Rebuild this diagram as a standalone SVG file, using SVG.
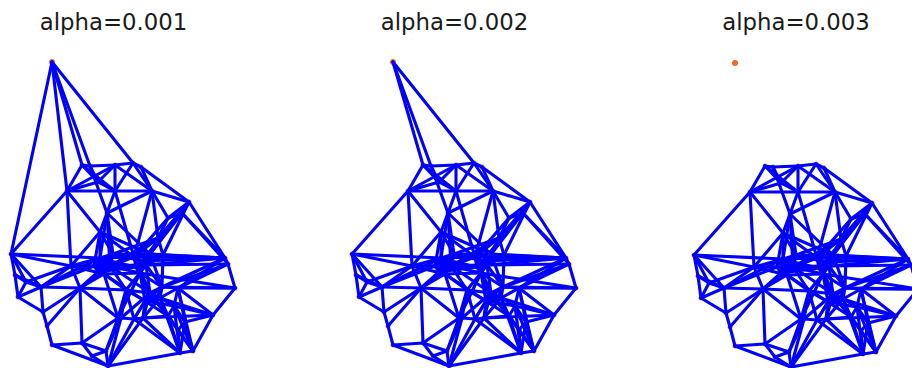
<svg xmlns="http://www.w3.org/2000/svg" xmlns:xlink="http://www.w3.org/1999/xlink" width="912" height="368" viewBox="0 0 912 368">
<style>
.t{font-family:"DejaVu Sans","Liberation Sans",sans-serif;font-size:22.8px;fill:#1a1a1a;text-anchor:middle}
.e line{stroke:#0000ff;stroke-width:3.1;stroke-linecap:round}
.n circle{fill:#f4692a}
</style>
<defs>
<g id="nodes" class="n">
<g id="n0"><circle cx="52" cy="62" r="3"/></g>
<g id="n1"><circle cx="82" cy="165" r="2.5"/></g>
<g id="n2"><circle cx="90" cy="166" r="2.5"/></g>
<g id="n3"><circle cx="115" cy="165" r="2.5"/></g>
<g id="n4"><circle cx="133" cy="163" r="2.5"/></g>
<g id="n5"><circle cx="141" cy="167" r="2.5"/></g>
<g id="n6"><circle cx="152" cy="191" r="2.5"/></g>
<g id="n7"><circle cx="189" cy="202" r="2.5"/></g>
<g id="n8"><circle cx="225" cy="258" r="2.5"/></g>
<g id="n9"><circle cx="228" cy="264" r="2.5"/></g>
<g id="n10"><circle cx="235" cy="288" r="2.5"/></g>
<g id="n11"><circle cx="213" cy="315" r="2.5"/></g>
<g id="n12"><circle cx="193" cy="351" r="2.5"/></g>
<g id="n13"><circle cx="180" cy="353" r="2.5"/></g>
<g id="n14"><circle cx="108" cy="366" r="2.5"/></g>
<g id="n15"><circle cx="92" cy="356" r="2.5"/></g>
<g id="n16"><circle cx="82" cy="343" r="2.5"/></g>
<g id="n17"><circle cx="52" cy="345" r="2.5"/></g>
<g id="n18"><circle cx="47" cy="326" r="2.5"/></g>
<g id="n19"><circle cx="43" cy="312" r="2.5"/></g>
<g id="n20"><circle cx="18" cy="297" r="2.5"/></g>
<g id="n21"><circle cx="15" cy="275" r="2.5"/></g>
<g id="n22"><circle cx="11" cy="254" r="2.5"/></g>
<g id="n23"><circle cx="67" cy="191" r="2.5"/></g>
<g id="n24"><circle cx="98" cy="182" r="2.5"/></g>
<g id="n25"><circle cx="115" cy="191" r="2.5"/></g>
<g id="n26"><circle cx="107" cy="213" r="2.5"/></g>
<g id="n27"><circle cx="100" cy="232" r="2.5"/></g>
<g id="n28"><circle cx="182" cy="213" r="2.5"/></g>
<g id="n29"><circle cx="168" cy="218" r="2.5"/></g>
<g id="n30"><circle cx="158" cy="238" r="2.5"/></g>
<g id="n31"><circle cx="26" cy="282" r="2.5"/></g>
<g id="n32"><circle cx="41" cy="287" r="2.5"/></g>
<g id="n33"><circle cx="71" cy="266" r="2.5"/></g>
<g id="n34"><circle cx="80" cy="288" r="2.5"/></g>
<g id="n35"><circle cx="118" cy="318" r="2.5"/></g>
<g id="n36"><circle cx="106" cy="351" r="2.5"/></g>
<g id="n37"><circle cx="178" cy="288" r="2.5"/></g>
<g id="n38"><circle cx="174" cy="306" r="2.5"/></g>
<g id="n39"><circle cx="168" cy="316" r="2.5"/></g>
<g id="n40"><circle cx="143" cy="318" r="2.5"/></g>
<g id="n41"><circle cx="134" cy="319" r="2.5"/></g>
<g id="n42"><circle cx="121" cy="318" r="2.5"/></g>
<g id="n43"><circle cx="100" cy="258" r="2.5"/></g>
<g id="n44"><circle cx="110" cy="266" r="2.5"/></g>
<g id="n45"><circle cx="104" cy="274" r="2.5"/></g>
<g id="n46"><circle cx="94" cy="266" r="2.5"/></g>
<g id="n47"><circle cx="113" cy="254" r="2.5"/></g>
<g id="n48"><circle cx="134" cy="257" r="2.5"/></g>
<g id="n49"><circle cx="146" cy="265" r="2.5"/></g>
<g id="n50"><circle cx="140" cy="273" r="2.5"/></g>
<g id="n51"><circle cx="150" cy="254" r="2.5"/></g>
<g id="n52"><circle cx="150" cy="293" r="2.5"/></g>
<g id="n53"><circle cx="160" cy="298" r="2.5"/></g>
<g id="n54"><circle cx="145" cy="301" r="2.5"/></g>
<g id="n55"><circle cx="162" cy="287" r="2.5"/></g>
<g id="n56"><circle cx="126" cy="290" r="2.5"/></g>
<g id="n57"><circle cx="163" cy="255" r="2.5"/></g>
<g id="n58"><circle cx="185" cy="322" r="2.5"/></g>
<g id="n59"><circle cx="178" cy="330" r="2.5"/></g>
<g id="n60"><circle cx="106" cy="260" r="2.5"/></g>
<g id="n61"><circle cx="98" cy="272" r="2.5"/></g>
<g id="n62"><circle cx="142" cy="261" r="2.5"/></g>
<g id="n63"><circle cx="136" cy="267" r="2.5"/></g>
<g id="n64"><circle cx="155" cy="301" r="2.5"/></g>
<g id="n65"><circle cx="148" cy="296" r="2.5"/></g>
</g>
<g id="mesh" class="e">
<line x1="11" y1="254" x2="15" y2="275"/><line x1="15" y1="275" x2="18" y2="297"/><line x1="18" y1="297" x2="43" y2="312"/><line x1="43" y1="312" x2="47" y2="326"/><line x1="47" y1="326" x2="52" y2="345"/><line x1="52" y1="345" x2="82" y2="343"/><line x1="82" y1="343" x2="92" y2="356"/><line x1="92" y1="356" x2="108" y2="366"/><line x1="52" y1="345" x2="108" y2="366"/><line x1="108" y1="366" x2="180" y2="353"/><line x1="180" y1="353" x2="193" y2="351"/><line x1="193" y1="351" x2="213" y2="315"/><line x1="213" y1="315" x2="235" y2="288"/><line x1="235" y1="288" x2="228" y2="264"/><line x1="228" y1="264" x2="225" y2="258"/><line x1="225" y1="258" x2="189" y2="202"/><line x1="189" y1="202" x2="141" y2="167"/><line x1="141" y1="167" x2="133" y2="163"/><line x1="133" y1="163" x2="115" y2="165"/><line x1="115" y1="165" x2="90" y2="166"/><line x1="90" y1="166" x2="82" y2="165"/><line x1="82" y1="165" x2="67" y2="191"/><line x1="67" y1="191" x2="11" y2="254"/>
<line x1="82" y1="165" x2="98" y2="182"/><line x1="82" y1="165" x2="115" y2="191"/><line x1="90" y1="166" x2="98" y2="182"/><line x1="90" y1="166" x2="107" y2="213"/><line x1="115" y1="165" x2="98" y2="182"/><line x1="115" y1="165" x2="115" y2="191"/><line x1="115" y1="165" x2="67" y2="191"/><line x1="133" y1="163" x2="152" y2="191"/><line x1="141" y1="167" x2="152" y2="191"/><line x1="133" y1="163" x2="115" y2="191"/><line x1="115" y1="165" x2="152" y2="191"/><line x1="67" y1="191" x2="98" y2="182"/><line x1="67" y1="191" x2="115" y2="191"/><line x1="67" y1="191" x2="100" y2="232"/><line x1="67" y1="191" x2="71" y2="266"/><line x1="98" y1="182" x2="115" y2="191"/><line x1="115" y1="191" x2="152" y2="191"/><line x1="115" y1="191" x2="107" y2="213"/><line x1="107" y1="213" x2="100" y2="232"/><line x1="152" y1="191" x2="107" y2="213"/><line x1="152" y1="191" x2="189" y2="202"/><line x1="152" y1="191" x2="158" y2="238"/><line x1="152" y1="191" x2="168" y2="218"/><line x1="189" y1="202" x2="182" y2="213"/><line x1="189" y1="202" x2="168" y2="218"/><line x1="182" y1="213" x2="168" y2="218"/><line x1="182" y1="213" x2="158" y2="238"/><line x1="189" y1="202" x2="163" y2="255"/><line x1="168" y1="218" x2="158" y2="238"/><line x1="189" y1="202" x2="158" y2="238"/>
<line x1="11" y1="254" x2="71" y2="266"/><line x1="11" y1="254" x2="26" y2="282"/><line x1="11" y1="254" x2="41" y2="287"/><line x1="15" y1="275" x2="26" y2="282"/><line x1="15" y1="275" x2="41" y2="287"/><line x1="18" y1="297" x2="26" y2="282"/><line x1="18" y1="297" x2="41" y2="287"/><line x1="26" y1="282" x2="41" y2="287"/><line x1="41" y1="287" x2="71" y2="266"/><line x1="41" y1="287" x2="80" y2="288"/><line x1="43" y1="312" x2="41" y2="287"/><line x1="43" y1="312" x2="80" y2="288"/><line x1="47" y1="326" x2="80" y2="288"/><line x1="82" y1="343" x2="80" y2="288"/><line x1="71" y1="266" x2="80" y2="288"/><line x1="71" y1="266" x2="100" y2="258"/><line x1="71" y1="266" x2="94" y2="266"/><line x1="100" y1="232" x2="71" y2="266"/><line x1="100" y1="232" x2="100" y2="258"/><line x1="100" y1="232" x2="94" y2="266"/><line x1="100" y1="232" x2="113" y2="254"/><line x1="107" y1="213" x2="113" y2="254"/><line x1="107" y1="213" x2="100" y2="258"/>
<line x1="82" y1="343" x2="106" y2="351"/><line x1="92" y1="356" x2="106" y2="351"/><line x1="108" y1="366" x2="106" y2="351"/><line x1="106" y1="351" x2="118" y2="318"/><line x1="106" y1="351" x2="121" y2="318"/><line x1="80" y1="288" x2="118" y2="318"/><line x1="80" y1="288" x2="104" y2="274"/><line x1="118" y1="318" x2="121" y2="318"/><line x1="118" y1="318" x2="104" y2="274"/><line x1="118" y1="318" x2="126" y2="290"/><line x1="82" y1="343" x2="118" y2="318"/><line x1="108" y1="366" x2="121" y2="318"/><line x1="108" y1="366" x2="134" y2="319"/><line x1="108" y1="366" x2="143" y2="318"/><line x1="180" y1="353" x2="143" y2="318"/><line x1="180" y1="353" x2="134" y2="319"/><line x1="180" y1="353" x2="168" y2="316"/><line x1="180" y1="353" x2="174" y2="306"/><line x1="193" y1="351" x2="174" y2="306"/><line x1="193" y1="351" x2="168" y2="316"/><line x1="213" y1="315" x2="174" y2="306"/><line x1="213" y1="315" x2="178" y2="288"/><line x1="213" y1="315" x2="160" y2="298"/><line x1="213" y1="315" x2="143" y2="318"/><line x1="134" y1="319" x2="143" y2="318"/><line x1="121" y1="318" x2="134" y2="319"/><line x1="143" y1="318" x2="145" y2="301"/><line x1="134" y1="319" x2="145" y2="301"/><line x1="121" y1="318" x2="126" y2="290"/><line x1="134" y1="319" x2="126" y2="290"/><line x1="143" y1="318" x2="168" y2="316"/><line x1="168" y1="316" x2="174" y2="306"/><line x1="174" y1="306" x2="178" y2="288"/><line x1="168" y1="316" x2="160" y2="298"/><line x1="174" y1="306" x2="160" y2="298"/><line x1="143" y1="318" x2="160" y2="298"/>
<line x1="225" y1="258" x2="163" y2="255"/><line x1="225" y1="258" x2="150" y2="254"/><line x1="225" y1="258" x2="146" y2="265"/><line x1="225" y1="258" x2="162" y2="287"/><line x1="228" y1="264" x2="162" y2="287"/><line x1="228" y1="264" x2="178" y2="288"/><line x1="235" y1="288" x2="178" y2="288"/><line x1="235" y1="288" x2="162" y2="287"/><line x1="225" y1="258" x2="178" y2="288"/><line x1="182" y1="213" x2="228" y2="264"/><line x1="182" y1="213" x2="225" y2="258"/><line x1="158" y1="238" x2="163" y2="255"/><line x1="158" y1="238" x2="150" y2="254"/><line x1="158" y1="238" x2="134" y2="257"/><line x1="163" y1="255" x2="150" y2="254"/><line x1="163" y1="255" x2="146" y2="265"/><line x1="163" y1="255" x2="162" y2="287"/><line x1="178" y1="288" x2="162" y2="287"/><line x1="178" y1="288" x2="160" y2="298"/><line x1="162" y1="287" x2="150" y2="293"/><line x1="162" y1="287" x2="146" y2="265"/><line x1="162" y1="287" x2="140" y2="273"/>
<line x1="100" y1="258" x2="110" y2="266"/><line x1="100" y1="258" x2="104" y2="274"/><line x1="100" y1="258" x2="94" y2="266"/><line x1="100" y1="258" x2="113" y2="254"/><line x1="110" y1="266" x2="104" y2="274"/><line x1="110" y1="266" x2="94" y2="266"/><line x1="110" y1="266" x2="113" y2="254"/><line x1="104" y1="274" x2="94" y2="266"/><line x1="104" y1="274" x2="113" y2="254"/><line x1="94" y1="266" x2="113" y2="254"/>
<line x1="134" y1="257" x2="146" y2="265"/><line x1="134" y1="257" x2="140" y2="273"/><line x1="134" y1="257" x2="150" y2="254"/><line x1="146" y1="265" x2="140" y2="273"/><line x1="146" y1="265" x2="150" y2="254"/><line x1="140" y1="273" x2="150" y2="254"/>
<line x1="150" y1="293" x2="160" y2="298"/><line x1="150" y1="293" x2="145" y2="301"/><line x1="160" y1="298" x2="145" y2="301"/><line x1="160" y1="298" x2="162" y2="287"/><line x1="145" y1="301" x2="162" y2="287"/>
<line x1="113" y1="254" x2="134" y2="257"/><line x1="110" y1="266" x2="134" y2="257"/><line x1="110" y1="266" x2="140" y2="273"/><line x1="104" y1="274" x2="140" y2="273"/><line x1="113" y1="254" x2="150" y2="254"/><line x1="100" y1="258" x2="134" y2="257"/><line x1="94" y1="266" x2="146" y2="265"/><line x1="110" y1="266" x2="146" y2="265"/>
<line x1="140" y1="273" x2="150" y2="293"/><line x1="140" y1="273" x2="145" y2="301"/><line x1="146" y1="265" x2="150" y2="293"/><line x1="134" y1="257" x2="150" y2="293"/><line x1="150" y1="254" x2="162" y2="287"/>
<line x1="104" y1="274" x2="145" y2="301"/><line x1="110" y1="266" x2="150" y2="293"/><line x1="104" y1="274" x2="126" y2="290"/><line x1="110" y1="266" x2="126" y2="290"/><line x1="126" y1="290" x2="145" y2="301"/><line x1="126" y1="290" x2="150" y2="293"/><line x1="126" y1="290" x2="140" y2="273"/>
<line x1="100" y1="232" x2="134" y2="257"/><line x1="100" y1="232" x2="150" y2="254"/><line x1="107" y1="213" x2="150" y2="254"/><line x1="158" y1="238" x2="113" y2="254"/><line x1="158" y1="238" x2="110" y2="266"/><line x1="168" y1="218" x2="134" y2="257"/><line x1="152" y1="191" x2="134" y2="257"/><line x1="115" y1="191" x2="134" y2="257"/><line x1="107" y1="213" x2="110" y2="266"/><line x1="71" y1="266" x2="110" y2="266"/><line x1="80" y1="288" x2="110" y2="266"/><line x1="80" y1="288" x2="126" y2="290"/><line x1="41" y1="287" x2="100" y2="258"/><line x1="71" y1="266" x2="104" y2="274"/><line x1="118" y1="318" x2="140" y2="273"/><line x1="121" y1="318" x2="150" y2="293"/><line x1="143" y1="318" x2="150" y2="293"/><line x1="134" y1="319" x2="150" y2="293"/><line x1="145" y1="301" x2="168" y2="316"/><line x1="145" y1="301" x2="174" y2="306"/>
<line x1="193" y1="351" x2="185" y2="322"/><line x1="180" y1="353" x2="185" y2="322"/><line x1="193" y1="351" x2="178" y2="330"/><line x1="180" y1="353" x2="178" y2="330"/><line x1="185" y1="322" x2="178" y2="330"/><line x1="185" y1="322" x2="174" y2="306"/><line x1="178" y1="330" x2="168" y2="316"/><line x1="185" y1="322" x2="213" y2="315"/><line x1="185" y1="322" x2="178" y2="288"/><line x1="193" y1="351" x2="178" y2="288"/><line x1="180" y1="353" x2="160" y2="298"/>
<line x1="106" y1="260" x2="94" y2="266"/><line x1="106" y1="260" x2="104" y2="274"/><line x1="106" y1="260" x2="113" y2="254"/><line x1="106" y1="260" x2="100" y2="258"/><line x1="106" y1="260" x2="110" y2="266"/><line x1="106" y1="260" x2="98" y2="272"/><line x1="98" y1="272" x2="94" y2="266"/><line x1="98" y1="272" x2="110" y2="266"/><line x1="98" y1="272" x2="113" y2="254"/><line x1="98" y1="272" x2="100" y2="258"/><line x1="98" y1="272" x2="80" y2="288"/><line x1="106" y1="260" x2="136" y2="267"/><line x1="98" y1="272" x2="136" y2="267"/>
<line x1="142" y1="261" x2="134" y2="257"/><line x1="142" y1="261" x2="140" y2="273"/><line x1="142" y1="261" x2="150" y2="254"/><line x1="142" y1="261" x2="146" y2="265"/><line x1="142" y1="261" x2="136" y2="267"/><line x1="136" y1="267" x2="134" y2="257"/><line x1="136" y1="267" x2="146" y2="265"/><line x1="136" y1="267" x2="150" y2="254"/><line x1="136" y1="267" x2="140" y2="273"/><line x1="142" y1="261" x2="163" y2="255"/><line x1="142" y1="261" x2="113" y2="254"/>
<line x1="155" y1="301" x2="150" y2="293"/><line x1="155" y1="301" x2="145" y2="301"/><line x1="155" y1="301" x2="162" y2="287"/><line x1="155" y1="301" x2="148" y2="296"/><line x1="148" y1="296" x2="160" y2="298"/><line x1="148" y1="296" x2="162" y2="287"/><line x1="148" y1="296" x2="140" y2="273"/><line x1="155" y1="301" x2="168" y2="316"/><line x1="148" y1="296" x2="143" y2="318"/><line x1="155" y1="301" x2="136" y2="267"/>
<line x1="189" y1="202" x2="150" y2="254"/><line x1="189" y1="202" x2="142" y2="261"/><line x1="182" y1="213" x2="150" y2="254"/><line x1="225" y1="258" x2="134" y2="257"/><line x1="225" y1="258" x2="142" y2="261"/><line x1="235" y1="288" x2="140" y2="273"/><line x1="228" y1="264" x2="146" y2="265"/><line x1="11" y1="254" x2="100" y2="258"/><line x1="41" y1="287" x2="94" y2="266"/><line x1="26" y1="282" x2="71" y2="266"/>
</g>
<g id="top2" class="e"><line x1="52" y1="62" x2="82" y2="165"/><line x1="52" y1="62" x2="90" y2="166"/><line x1="52" y1="62" x2="133" y2="163"/></g>
<g id="top1" class="e"><line x1="52" y1="62" x2="11" y2="254"/><line x1="52" y1="62" x2="67" y2="191"/></g>
</defs>
<g id="titles">
<text class="t" x="113.5" y="30">alpha=0.001</text>
<text class="t" x="454.5" y="30">alpha=0.002</text>
<text class="t" x="796" y="30">alpha=0.003</text>
</g>
<g id="panel1">
<use xlink:href="#nodes"/>
<g id="connectors1"><use xlink:href="#mesh"/><use xlink:href="#top2"/><use xlink:href="#top1"/></g>
</g>
<g id="panel2" transform="translate(341,0)">
<use xlink:href="#nodes"/>
<g id="connectors2"><use xlink:href="#mesh"/><use xlink:href="#top2"/></g>
</g>
<g id="panel3" transform="translate(683,1)">
<use xlink:href="#nodes"/>
<g id="connectors3"><use xlink:href="#mesh"/></g>
</g>
</svg>
